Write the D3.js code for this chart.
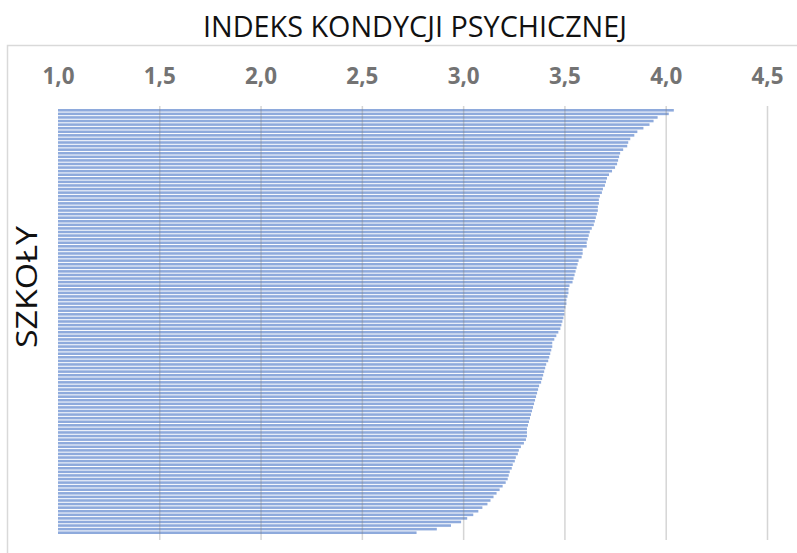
<!DOCTYPE html>
<html>
<head>
<meta charset="utf-8">
<script src="https://cdn.jsdelivr.net/npm/d3@7"></script>
<style>
  html, body { margin: 0; padding: 0; background: #fff; }
  svg { display: block; }
</style>
</head>
<body>
<svg id="chart" width="797" height="553"></svg>
<script>
// Index of psychological condition per school, sorted from highest to lowest
const schoolScores = [
  4.04, 4.015, 3.96, 3.94, 3.92, 3.89, 3.86, 3.845, 3.825, 3.815,
  3.81, 3.79, 3.775, 3.77, 3.765, 3.76, 3.75, 3.735, 3.72, 3.71,
  3.705, 3.70, 3.69, 3.685, 3.675, 3.67, 3.67, 3.665, 3.665, 3.66,
  3.655, 3.65, 3.645, 3.635, 3.625, 3.62, 3.615, 3.61, 3.61, 3.59,
  3.59, 3.585, 3.57, 3.565, 3.56, 3.555, 3.55, 3.545, 3.54, 3.525,
  3.52, 3.52, 3.515, 3.51, 3.51, 3.505, 3.50, 3.50, 3.495, 3.49,
  3.485, 3.48, 3.47, 3.46, 3.45, 3.44, 3.44, 3.435, 3.43, 3.425,
  3.42, 3.41, 3.405, 3.40, 3.395, 3.39, 3.385, 3.375, 3.37, 3.365,
  3.36, 3.355, 3.35, 3.345, 3.34, 3.335, 3.33, 3.325, 3.32, 3.315,
  3.315, 3.315, 3.31, 3.30, 3.285, 3.275, 3.27, 3.26, 3.255, 3.245,
  3.24, 3.23, 3.225, 3.22, 3.21, 3.195, 3.18, 3.165, 3.15, 3.135,
  3.12, 3.095, 3.075, 3.05, 3.02, 2.99, 2.94, 2.87, 2.77
];
const tickValues = [1.0, 1.5, 2.0, 2.5, 3.0, 3.5, 4.0, 4.5];
const chartTitle = "INDEKS KONDYCJI PSYCHICZNEJ";
const axisTitle = "SZKOŁY";

const svg = d3.select("#chart");

const x = d3.scaleLinear().domain([1.0, 4.5]).range([58, 767]);
const y = d3.scaleBand()
  .domain(d3.range(schoolScores.length))
  .range([109, 534])
  .paddingInner(0.28);

// Outer frame of the chart area (top and left edges)
svg.append("path")
  .attr("d", "M7.5,553 L7.5,45.5 L797,45.5")
  .attr("fill", "none")
  .attr("stroke", "#d9d9d9")
  .attr("stroke-width", 1.5);

// Title
svg.append("text")
  .attr("x", 415)
  .attr("y", 37)
  .attr("text-anchor", "middle")
  .attr("font-family", "'Open Sans', sans-serif")
  .attr("font-size", 30)
  .attr("fill", "#111")
  .attr("textLength", 424)
  .attr("lengthAdjust", "spacingAndGlyphs")
  .text(chartTitle);

// Tick labels along the top
const fmt = d => d3.format(".1f")(d).replace(".", ",");
const axis = svg.append("g")
  .attr("transform", "translate(0,84)")
  .call(d3.axisTop(x).tickValues(tickValues).tickFormat(fmt).tickSize(0).tickPadding(0));
axis.select(".domain").remove();
axis.selectAll("text")
  .attr("font-family", "'Open Sans', sans-serif")
  .attr("font-weight", "bold")
  .attr("font-size", 23)
  .attr("fill", "#737373")
  .attr("dy", 0)
  .attr("textLength", 32)
  .attr("lengthAdjust", "spacingAndGlyphs");

// Bars
svg.append("g")
  .selectAll("rect")
  .data(schoolScores)
  .join("rect")
  .attr("x", x(1.0))
  .attr("y", (d, i) => y(i))
  .attr("width", d => x(d) - x(1.0))
  .attr("height", y.bandwidth())
  .attr("fill", "#8eaadc");

// Vertical gridlines, drawn over the bars so they show through
const grid = svg.append("g")
  .attr("transform", "translate(0,106)")
  .call(d3.axisBottom(x).tickValues(tickValues.slice(1)).tickSize(434).tickFormat(""));
grid.select(".domain").remove();
grid.selectAll("line")
  .attr("stroke", "#7f7f7f")
  .attr("stroke-opacity", 0.33)
  .attr("stroke-width", 1.5);

// Vertical axis title
svg.append("text")
  .attr("transform", "translate(37,287) rotate(-90)")
  .attr("text-anchor", "middle")
  .attr("font-family", "'Open Sans', sans-serif")
  .attr("font-size", 30)
  .attr("fill", "#111")
  .attr("textLength", 122)
  .attr("lengthAdjust", "spacingAndGlyphs")
  .text(axisTitle);
</script>
</body>
</html>
